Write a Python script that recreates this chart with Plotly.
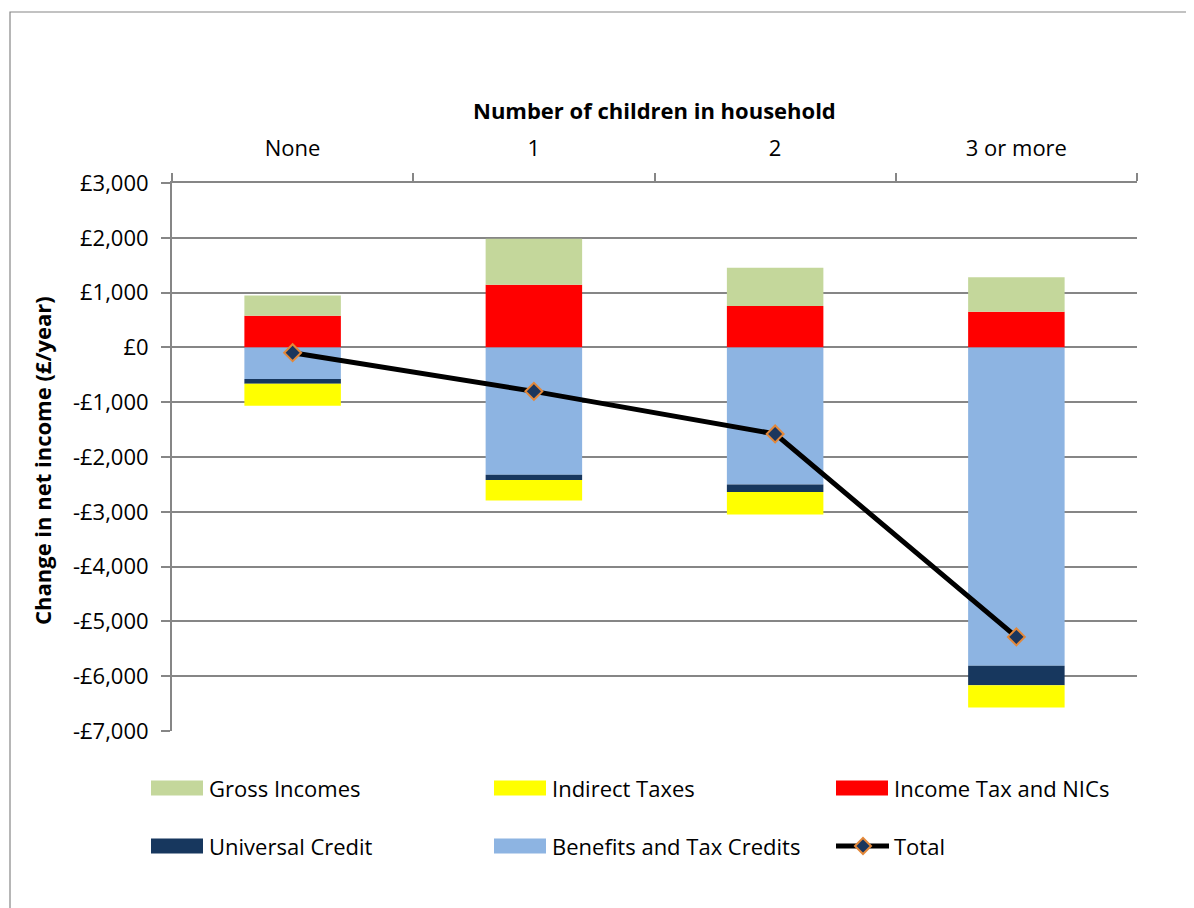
import plotly.graph_objects as go

# data (£/year)
categories = ["None", "1", "2", "3 or more"]
income_tax = [578, 1143, 754, 650]
gross_incomes = [370, 840, 700, 630]
benefits = [-578, -2322, -2502, -5809]
universal_credit = [-85, -97, -136, -357]
indirect_taxes = [-401, -377, -409, -403]
total = [-97, -802, -1579, -5283]

y_ticks = [3000, 2000, 1000, 0, -1000, -2000, -3000, -4000, -5000, -6000, -7000]
y_labels = ["£3,000", "£2,000", "£1,000", "£0", "-£1,000", "-£2,000", "-£3,000",
            "-£4,000", "-£5,000", "-£6,000", "-£7,000"]

col = {
    "Gross Incomes": "#C4D79B",
    "Indirect Taxes": "#FFFF00",
    "Income Tax and NICs": "#FF0000",
    "Universal Credit": "#17375E",
    "Benefits and Tax Credits": "#8DB4E2",
}
FONT = "Open Sans"
FS = 22
GRID = "#868686"

fig = go.Figure()
# positives stack up from zero, negatives down, in trace order
for name, vals in [("Income Tax and NICs", income_tax), ("Gross Incomes", gross_incomes),
                   ("Benefits and Tax Credits", benefits), ("Universal Credit", universal_credit),
                   ("Indirect Taxes", indirect_taxes)]:
    fig.add_trace(go.Bar(x=categories, y=vals, name=name, width=0.4,
                         marker_color=col[name], marker_line_width=0, showlegend=False))

fig.add_trace(go.Scatter(x=categories, y=total, name="Total", mode="lines+markers",
                         line=dict(color="black", width=5),
                         marker=dict(symbol="diamond", size=13, color="#1B365D",
                                     line=dict(color="#E3883A", width=2)),
                         showlegend=False))

# page has an 8px body margin, so figure coords = page coords - 8
OFF = 8
FW, FH = 1194 - OFF, 908 - OFF
# plot area in page pixels
L, R, T, B = 172, 1137, 183, 731
W, H = R - L, B - T
def px(x): return (x - L) / W
def py(y): return (B - y) / H

shapes = []
annotations = []

# outer chart border
shapes.append(dict(type="rect", xref="paper", yref="paper", x0=px(10), y0=py(12),
                   x1=px(1215), y1=py(935), line=dict(color=GRID, width=1.2)))

# legend, drawn by hand so the swatches match the wide Excel ones
legend_items = ["Gross Incomes", "Indirect Taxes", "Income Tax and NICs",
                "Universal Credit", "Benefits and Tax Credits", "Total"]
col_x = [151, 494, 836]
row_y = [788, 846]
for i, name in enumerate(legend_items):
    x0 = col_x[i % 3]
    yc = row_y[i // 3]
    if name == "Total":
        shapes.append(dict(type="line", xref="paper", yref="paper", x0=px(x0), x1=px(x0 + 53),
                           y0=py(yc), y1=py(yc), line=dict(color="black", width=5)))
        cx, d = x0 + 27, 8
        path = "M {} {} L {} {} L {} {} L {} {} Z".format(
            px(cx - d), py(yc), px(cx), py(yc - d), px(cx + d), py(yc), px(cx), py(yc + d))
        shapes.append(dict(type="path", xref="paper", yref="paper", path=path,
                           fillcolor="#1B365D", line=dict(color="#E3883A", width=2)))
    else:
        shapes.append(dict(type="rect", xref="paper", yref="paper", x0=px(x0), x1=px(x0 + 52),
                           y0=py(yc - 7.5), y1=py(yc + 7.5), fillcolor=col[name], line_width=0))
    annotations.append(dict(text=name, xref="paper", yref="paper", x=px(x0 + 56), y=py(yc),
                            xanchor="left", yanchor="middle", showarrow=False,
                            font=dict(family=FONT, size=FS, color="black")))

# axis titles
annotations.append(dict(text="<b>Number of children in household</b>", xref="paper", yref="paper",
                        x=px(654), y=py(110), xanchor="center", yanchor="middle", showarrow=False,
                        font=dict(family=FONT, size=FS, color="black")))
annotations.append(dict(text="<b>Change in net income (£/year)</b>", xref="paper", yref="paper",
                        x=px(42), y=py(461), xanchor="center", yanchor="middle", showarrow=False,
                        textangle=-90, font=dict(family=FONT, size=FS, color="black")))

fig.update_layout(
    width=FW, height=FH,
    margin=dict(l=L - OFF, r=FW - (R - OFF), t=T - OFF, b=FH - (B - OFF)),
    paper_bgcolor="white", plot_bgcolor="white",
    barmode="relative",
    font=dict(family=FONT, size=FS, color="black"),
    shapes=shapes, annotations=annotations,
    showlegend=False,
)
fig.update_xaxes(side="top", type="category", tickson="boundaries", ticks="outside",
                 ticklen=8, tickcolor=GRID, tickwidth=2, showline=True, linecolor=GRID,
                 linewidth=2, showgrid=False, ticklabelstandoff=16,
                 tickfont=dict(family=FONT, size=FS, color="black"))
fig.update_yaxes(range=[-7000, 3000], tickvals=y_ticks, ticktext=y_labels, ticks="outside",
                 ticklen=9, tickcolor=GRID, tickwidth=2, showline=True, linecolor=GRID,
                 linewidth=2, showgrid=True, gridcolor=GRID, gridwidth=2,
                 zeroline=True, zerolinecolor=GRID, zerolinewidth=2, ticklabelstandoff=8,
                 tickfont=dict(family=FONT, size=FS, color="black"))

fig.write_html("out.html")
